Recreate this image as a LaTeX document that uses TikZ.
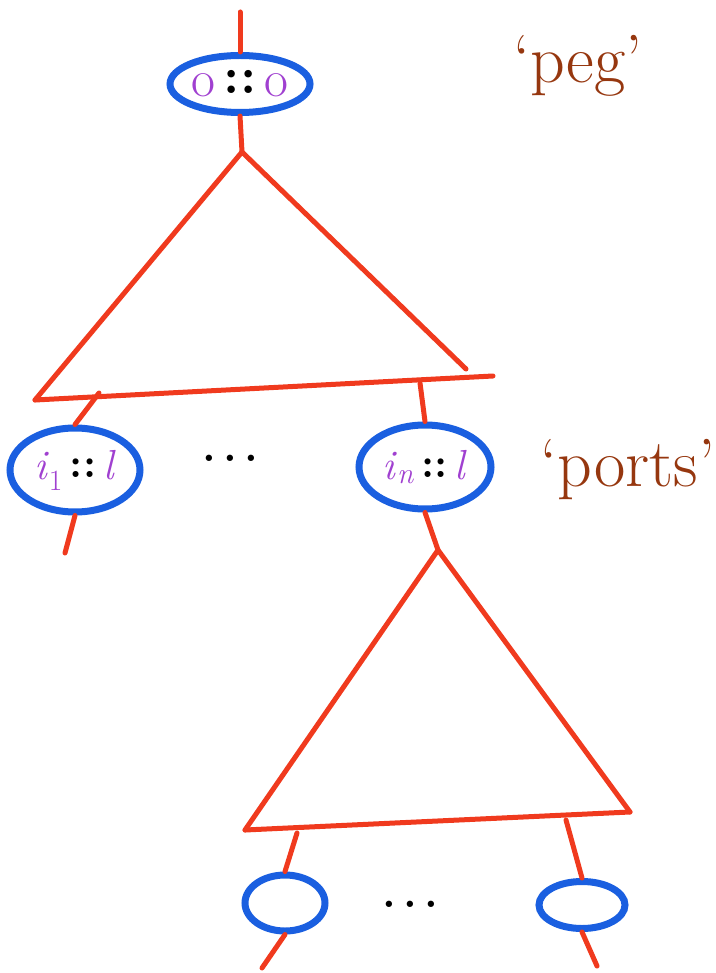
\documentclass[tikz,border=0pt]{standalone}
\usepackage{fontspec}
\usetikzlibrary{shapes.geometric}
\definecolor{wire}{RGB}{240,58,30}
\definecolor{ring}{RGB}{26,95,224}
\definecolor{lab}{RGB}{160,64,208}
\definecolor{note}{RGB}{150,55,15}
\begin{document}
\begin{tikzpicture}[x=1pt,y=-1pt,
  wireline/.style={draw=wire,line width=5pt,line cap=round,line join=round},
  port/.style={draw=ring,line width=7pt,ellipse,inner sep=0pt,font=\fontsize{52}{56}\selectfont},
  portlab/.style={font=\fontsize{42}{46}\selectfont},
  dots/.style={font=\fontsize{44}{48}\selectfont\bfseries},
  notetext/.style={text=note,font=\fontsize{68}{72}\selectfont}]
\useasboundingbox (0,0) rectangle (715,973);
% peg
\node[port,minimum width=140pt,minimum height=57pt] (peg) at (240,84)
  {\textcolor{lab}{o}\,\raisebox{3pt}{\textbf{::}}\,\textcolor{lab}{o}};
\coordinate (toptop) at (240,12);
\coordinate (apex1) at (242,152);
\draw[wireline] (toptop) -- (peg.north);
\draw[wireline] (peg.south) -- (apex1);
% triangle 1
\coordinate (bl1) at (35,400);
\coordinate (br1) at (466,369);
\coordinate (be1) at (493,376);
\draw[wireline] (bl1) -- (apex1) -- (br1);
\draw[wireline] (bl1) -- (be1);
% ports
\node[port,portlab,minimum width=130pt,minimum height=84pt] (p1) at (75,470)
  {\textcolor{lab}{\textit{i}\textsubscript{1}}\,\raisebox{2pt}{\textbf{::}}\,\textcolor{lab}{\textit{l}}};
\node[port,portlab,minimum width=132pt,minimum height=84pt] (pn) at (425,467)
  {\textcolor{lab}{\textit{i}\textsubscript{\textit{n}}}\,\raisebox{2pt}{\textbf{::}}\,\textcolor{lab}{\textit{l}}};
\coordinate (s1a) at (99,393);
\coordinate (s1d) at (65,553);
\coordinate (sna) at (420,383);
\coordinate (apex2) at (438,550);
\draw[wireline] (s1a) -- (p1.north);
\draw[wireline] (p1.south) -- (s1d);
\draw[wireline] (sna) -- (pn.north);
\draw[wireline] (pn.south) -- (apex2);
\node[dots] (mid1) at (230,458) {.\,.\,.};
% triangle 2
\coordinate (bl2) at (245,830);
\coordinate (br2) at (630,812);
\draw[wireline] (bl2) -- (apex2) -- (br2);
\draw[wireline] (bl2) -- (br2);
% bottom ports
\node[port,minimum width=80pt,minimum height=56pt] (q1) at (285,903) {};
\node[port,minimum width=86pt,minimum height=47pt] (qn) at (582,905) {};
\coordinate (b1a) at (297,833);
\coordinate (b1d) at (262,968);
\coordinate (b2a) at (566,820);
\coordinate (b2d) at (597,966);
\draw[wireline] (b1a) -- (q1.north);
\draw[wireline] (q1.south) -- (b1d);
\draw[wireline] (b2a) -- (qn.north);
\draw[wireline] (qn.south) -- (b2d);
\node[dots] (mid2) at (410,904) {.\,.\,.};
% notes
\node[notetext] (pegnote) at (578,66) {`peg'};
\node[notetext] (portsnote) at (628,470) {`ports'};
\end{tikzpicture}
\end{document}
